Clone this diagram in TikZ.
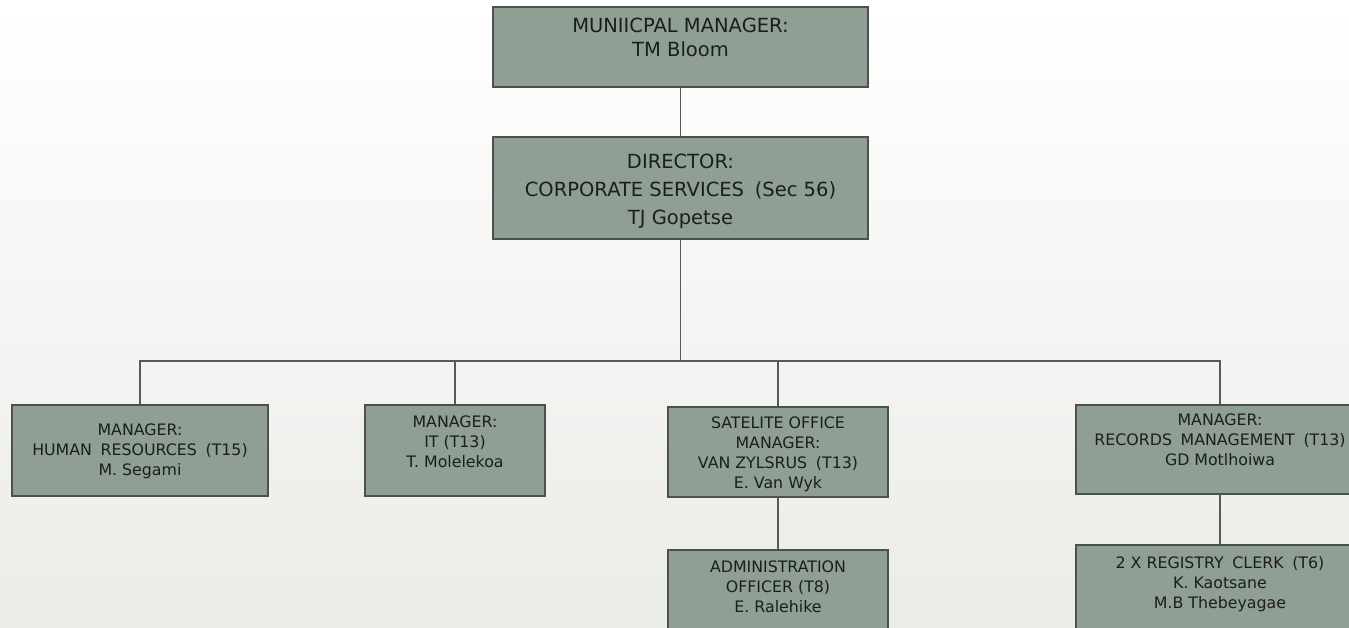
\documentclass[tikz,border=0pt]{standalone}
\usepackage{fontspec}
\setmainfont{DejaVu Sans}
\definecolor{boxfill}{RGB}{143,159,147}
\definecolor{boxline}{RGB}{78,80,78}
\definecolor{wireline}{RGB}{88,90,88}
\definecolor{txtcol}{RGB}{28,30,28}
\definecolor{bgbottom}{RGB}{234,236,231}
\newcommand{\orgtxt}[2]{\raisebox{#1}[\height][\depth]{\begin{tabular}{@{}c@{}}#2\end{tabular}}}
\newcommand{\gap}{\hspace{0.55em}}
\begin{document}
\begin{tikzpicture}[x=1pt,y=1pt,
  orgbox/.style={draw=boxline, line width=1.4pt, fill=boxfill, rectangle, inner sep=0pt, text=txtcol},
  bigtxt/.style={font=\fontsize{19.5}{23.5}\selectfont},
  dirtxt/.style={font=\fontsize{19.5}{28}\selectfont},
  smalltxt/.style={font=\fontsize{15.8}{20}\selectfont},
  wire/.style={draw=wireline, line width=1.6pt}]
\useasboundingbox (0,0) rectangle (1349,-627);
\clip (0,0) rectangle (1349,-627);
\shade[top color=white, bottom color=bgbottom] (0,0) rectangle (1349,-627);

\node[orgbox, bigtxt, minimum width=375pt, minimum height=80pt] (mm) at (680.5,-47)
  {\orgtxt{7pt}{MUNIICPAL MANAGER:\\TM Bloom}};
\node[orgbox, dirtxt, minimum width=375pt, minimum height=102pt] (dir) at (680.5,-188)
  {\orgtxt{-2.5pt}{DIRECTOR:\\CORPORATE SERVICES\gap(Sec 56)\\TJ Gopetse}};

\node[orgbox, smalltxt, minimum width=256pt, minimum height=91pt] (hr) at (140,-450.5)
  {\orgtxt{-1.2pt}{MANAGER:\\HUMAN\gap RESOURCES\gap (T15)\\M. Segami}};
\node[orgbox, smalltxt, minimum width=180pt, minimum height=91pt] (it) at (455,-450.5)
  {\orgtxt{6.8pt}{MANAGER:\\IT (T13)\\T. Molelekoa}};
\node[orgbox, smalltxt, minimum width=220pt, minimum height=90pt] (sat) at (778,-452)
  {\orgtxt{-2.2pt}{SATELITE OFFICE\\MANAGER:\\VAN ZYLSRUS\gap(T13)\\E. Van Wyk}};
\node[orgbox, smalltxt, minimum width=220pt, minimum height=90pt] (adm) at (778,-595)
  {\orgtxt{6.3pt}{ADMINISTRATION\\OFFICER (T8)\\E. Ralehike}};
\node[orgbox, smalltxt, minimum width=288pt, minimum height=89pt] (rec) at (1220,-449.5)
  {\orgtxt{7.8pt}{MANAGER:\\RECORDS\gap MANAGEMENT\gap (T13)\\GD Motlhoiwa}};
\node[orgbox, smalltxt, minimum width=288pt, minimum height=90pt] (reg) at (1220,-590)
  {\orgtxt{5.8pt}{2 X REGISTRY\gap CLERK\gap (T6)\\K. Kaotsane\\M.B Thebeyagae}};

\coordinate (bus) at (680.5,-361);
\draw[wire] (mm.south) -- (dir.north);
\draw[wire] (dir.south) -- (bus);
\draw[wire] (hr.north) -- (hr.north |- bus) -- (rec.north |- bus) -- (rec.north);
\draw[wire] (it.north) -- (it.north |- bus);
\draw[wire] (sat.north) -- (sat.north |- bus);
\draw[wire] (sat.south) -- (adm.north);
\draw[wire] (rec.south) -- (reg.north);
\end{tikzpicture}
\end{document}
